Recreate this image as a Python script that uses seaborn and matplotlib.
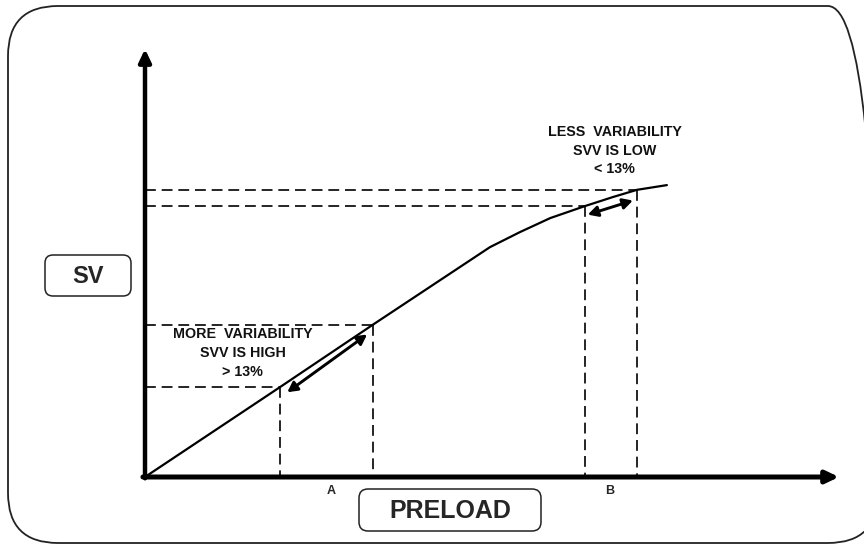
import matplotlib
matplotlib.use("Agg")
import matplotlib.pyplot as plt
from matplotlib.patches import FancyBboxPatch, ArrowStyle
import seaborn as sns

# ---------------- DATA ---------------- #

# Frank-Starling style curve (arbitrary units, axes run 0..100)
preload = [0, 19.45, 32.85, 49.7, 54.0, 58.4, 63.4, 67.4, 70.9, 75.2]
sv = [0, 21.0, 35.6, 53.7, 57.2, 60.5, 63.3, 65.4, 67.1, 68.2]

# reference points A (steep part) and B (flat part)
guide_x = [19.45, 32.85, 63.4, 70.9]
guide_y = [21.0, 35.6, 63.3, 67.1]

# double-headed arrows showing SV swing
swing_a = [(20.5, 19.8), (32.0, 33.3)]
swing_b = [(63.8, 61.3), (70.3, 64.6)]

label_more = "MORE  VARIABILITY\nSVV IS HIGH\n> 13%"
label_less = "LESS  VARIABILITY\nSVV IS LOW\n< 13%"
x_label = "PRELOAD"
y_label = "SV"
tick_labels = ["A", "B"]

# ---------------- STYLE ---------------- #

sns.set_theme(style="white")
plt.rcParams["font.family"] = ["Liberation Sans", "DejaVu Sans"]

W, H, DPI = 864, 545, 100
fig = plt.figure(figsize=(W / DPI, H / DPI), dpi=DPI)
ax = fig.add_axes([0, 0, 1, 1])

# pixel layout of the plot area: origin at (145, 477), 100 units per axis
X0, Y0, SX, SY = 145, 477, 6.94, 4.28
ax.set_xlim(-X0 / SX, (W - X0) / SX)
ax.set_ylim((Y0 - H) / SY, Y0 / SY)
ax.set_axis_off()


def px_box(x0, y0, x1, y1, r, lw):
    # rounded box given by pixel corners (top-left origin), drawn in inches
    patch = FancyBboxPatch((x0 / DPI, (H - y1) / DPI),
                           (x1 - x0) / DPI, (y1 - y0) / DPI,
                           boxstyle=f"round,pad=0,rounding_size={r / DPI}",
                           transform=fig.dpi_scale_trans, fill=False,
                           edgecolor="#222222", linewidth=lw)
    fig.add_artist(patch)


# outer frame (right side runs just past the image edge)
px_box(8, 6, 878, 543, 50, 1.3)

# ---------------- CURVE ---------------- #

sns.lineplot(x=preload, y=sv, ax=ax, color="black", linewidth=1.6,
             sort=False, estimator=None)

for gx, gy in zip(guide_x, guide_y):
    ax.plot([0, gx], [gy, gy], color="black", lw=1.2, ls=(0, (6.5, 3.5)))
    ax.plot([gx, gx], [gy, 0], color="black", lw=1.2, ls=(0, (6.5, 3.5)))

# axes with arrow heads
axis_style = ArrowStyle("-|>", head_length=0.42, head_width=0.2)
ax.annotate("", xy=(0, 100), xytext=(0, -0.3),
            arrowprops=dict(arrowstyle=axis_style, mutation_scale=18,
                            lw=3.2, color="black", shrinkA=0, shrinkB=0))
ax.annotate("", xy=(100, 0), xytext=(-0.3, 0),
            arrowprops=dict(arrowstyle=axis_style, mutation_scale=18,
                            lw=3.6, color="black", shrinkA=0, shrinkB=0))

swing_style = ArrowStyle("<|-|>", head_length=0.45, head_width=0.24)
for (p0, p1) in (swing_a, swing_b):
    ax.annotate("", xy=p1, xytext=p0,
                arrowprops=dict(arrowstyle=swing_style, mutation_scale=13,
                                lw=2.1, color="black", shrinkA=0, shrinkB=0))

# ---------------- TEXT ---------------- #

ax.text(14.1, 29.0, label_more, ha="center", va="center", fontsize=10.3,
        fontweight="bold", linespacing=1.45, color="#111111")
ax.text(67.7, 76.2, label_less, ha="center", va="center", fontsize=10.3,
        fontweight="bold", linespacing=1.4, color="#111111")

ax.text(26.8, -3.3, tick_labels[0], ha="center", va="center", fontsize=9,
        fontweight="bold")
ax.text(67.0, -3.3, tick_labels[1], ha="center", va="center", fontsize=9,
        fontweight="bold")

# axis label boxes
px_box(359, 489, 541, 531, 9, 1.1)
ax.text((450 - X0) / SX, (Y0 - 511) / SY, x_label, ha="center", va="center",
        fontsize=18, fontweight="bold")
px_box(45, 255, 131, 296, 8, 1.1)
ax.text((88 - X0) / SX, (Y0 - 276) / SY, y_label, ha="center", va="center",
        fontsize=17, fontweight="bold")

fig.savefig("out.png", dpi=DPI)
